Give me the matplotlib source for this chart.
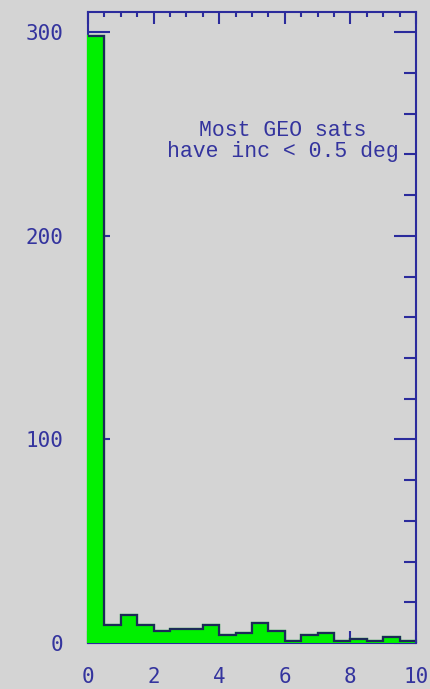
import numpy as np
import matplotlib
matplotlib.use("Agg")
import matplotlib.pyplot as plt
from matplotlib.ticker import MultipleLocator

# Inclination histogram of GEO satellites, 0.5 deg bins
bin_edges = np.arange(0.0, 10.01, 0.5)
counts = [298, 9, 14, 9, 6, 7, 7, 9, 4, 5,
          10, 6, 1, 4, 5, 1, 2, 1, 3, 1]

x_ticks = [0, 2, 4, 6, 8, 10]
y_ticks = [0, 100, 200, 300]
note_lines = ["Most GEO sats", "have inc < 0.5 deg"]

bg = "#d4d4d4"
axis_col = "#2b2b9c"
text_col = "#34349e"
fill_col = "#00f000"
step_col = "#1c2a58"

W, H = 431, 689
fig = plt.figure(figsize=(W / 100, H / 100), dpi=100, facecolor=bg)
ax = fig.add_axes([88 / W, 46 / H, 328 / W, 631 / H], facecolor=bg)

ax.set_xlim(0, 10)
ax.set_ylim(0, 310)

# filled histogram sits above the left/bottom axis lines
ax.stairs(counts, bin_edges, fill=True, facecolor=fill_col,
          edgecolor=fill_col, lw=1.6, zorder=3, clip_on=False)
ax.stairs(counts, bin_edges, baseline=None, color=step_col, lw=1.6,
          zorder=4)

for side, sp in ax.spines.items():
    sp.set_color(axis_col)
    sp.set_linewidth(1.5)
ax.spines["right"].set_zorder(5)
ax.spines["top"].set_zorder(5)

ax.set_xticks(x_ticks)
ax.set_yticks(y_ticks)
ax.xaxis.set_minor_locator(MultipleLocator(0.5))
ax.yaxis.set_minor_locator(MultipleLocator(20))

ax.tick_params(axis="both", which="both", direction="in", color=axis_col,
               width=1.5, top=True, right=True, labelcolor=text_col)
ax.tick_params(axis="x", which="major", length=8.6, pad=17)
ax.tick_params(axis="x", which="minor", length=3.6)
ax.tick_params(axis="y", which="major", length=16, pad=18)
ax.tick_params(axis="y", which="minor", length=9)

for lab in ax.get_xticklabels() + ax.get_yticklabels():
    lab.set_fontfamily("DejaVu Sans Mono")
    lab.set_fontsize(15)

ax.text(5.95, 238.7, "\n".join(note_lines), ha="center", va="baseline",
        multialignment="center", linespacing=0.98,
        color=text_col, fontsize=15.5, family="Liberation Mono", zorder=2)

fig.savefig("out.png", dpi=100, facecolor=bg)
